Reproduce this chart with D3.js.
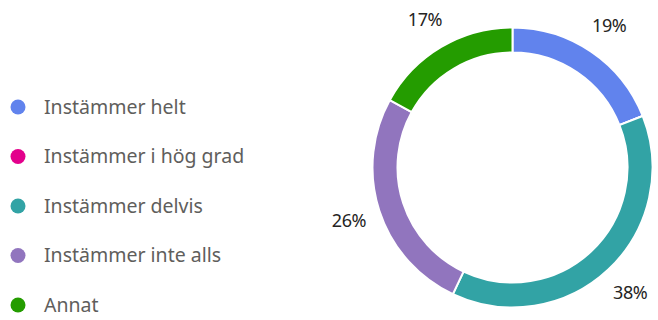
<!DOCTYPE html>
<html>
<head>
<meta charset="utf-8">
<script src="https://cdn.jsdelivr.net/npm/d3@7"></script>
<style>
    body { margin: 0; background: #fff; }
    svg { display: block; font-family: "Noto Sans", "Open Sans", sans-serif; }
</style>
</head>
<body>
<script>
(function () {

    //chart data
    var categories = ["Instämmer helt", "Instämmer i hög grad", "Instämmer delvis", "Instämmer inte alls", "Annat"];
    var values = [19, 0, 38, 26, 17];
    var colors = ["#6183ED", "#E3008C", "#32A3A5", "#9175BE", "#249C00"];

    var width = 658,
        height = 320;

    var svg = d3.select("body")
        .append("svg")
        .attr("width", width)
        .attr("height", height);

    //donut frame
    var cx = 512.5,
        cy = 167.5,
        outerR = 140,
        innerR = 115;

    var pie = d3.pie()
        .sort(null)
        .value(function (d) { return d; });

    var arc = d3.arc()
        .innerRadius(innerR)
        .outerRadius(outerR);

    var labelArc = d3.arc()
        .innerRadius(172)
        .outerRadius(172);

    var arcs = pie(values);

    var donut = svg.append("g")
        .attr("transform", "translate(" + cx + "," + cy + ")");

    donut.selectAll(".slice")
        .data(arcs)
        .enter()
        .append("path")
        .attr("class", "slice")
        .attr("d", arc)
        .style("fill", function (d, i) { return colors[i]; })
        .style("stroke", "#fff")
        .style("stroke-width", 2);

    //percent labels outside the ring
    donut.selectAll(".pct")
        .data(arcs.filter(function (d) { return d.data > 0; }))
        .enter()
        .append("text")
        .attr("class", "pct")
        .attr("transform", function (d) {
            return "translate(" + labelArc.centroid(d) + ")";
        })
        .attr("text-anchor", "middle")
        .attr("dy", "0.35em")
        .style("font-size", "18px")
        .style("letter-spacing", "-0.4px")
        .style("fill", "#252423")
        .text(function (d) { return d.data + "%"; });

    //legend
    var legendY = d3.scalePoint()
        .domain(categories)
        .range([107, 305]);

    var legend = svg.selectAll(".legend")
        .data(categories)
        .enter()
        .append("g")
        .attr("class", "legend")
        .attr("transform", function (d) {
            return "translate(0," + legendY(d) + ")";
        });

    legend.append("circle")
        .attr("cx", 18)
        .attr("cy", 0)
        .attr("r", 7.5)
        .style("fill", function (d, i) { return colors[i]; });

    legend.append("text")
        .attr("x", 44)
        .attr("dy", "0.35em")
        .style("font-size", "19.5px")
        .style("fill", "#605E5C")
        .text(function (d) { return d; });
})();
</script>
</body>
</html>
